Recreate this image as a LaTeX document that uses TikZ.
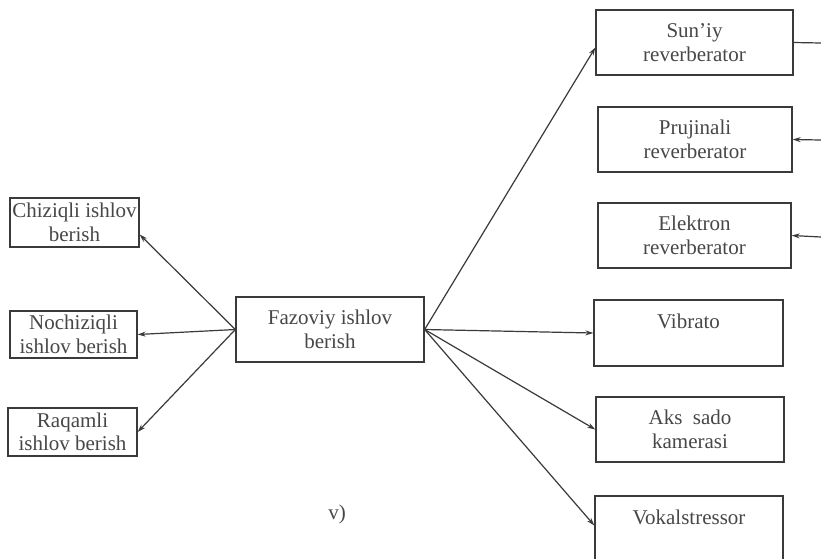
\documentclass[tikz,border=0pt]{standalone}
\usepackage{fontspec}
\setmainfont{Liberation Serif}
\usetikzlibrary{arrows.meta}
\definecolor{inkline}{HTML}{3A3A3A}
\definecolor{inktext}{HTML}{474747}
\begin{document}
\begin{tikzpicture}[x=1pt,y=-1pt,
  box/.style={draw=inkline, line width=1.3pt, inner sep=0pt, align=center,
    text=inktext, font=\fontsize{21}{23.5}\selectfont},
  link/.style={draw=inkline, line width=1.2pt},
  arrowto/.style={link, -{Stealth[length=8pt,width=5pt]}}]
\useasboundingbox (0,0) rectangle (821,558);
\fill[white] (0,0) rectangle (821,558);
\begin{scope}
\clip (0,0) rectangle (821,558);
% central block
\node[box, minimum width=188pt, minimum height=65pt] (faz) at (330,329.5) {Fazoviy ishlov\\berish};
% left column
\node[box, minimum width=129pt, minimum height=49pt] (chi) at (74.5,222.5) {Chiziqli ishlov\\berish};
\node[box, minimum width=127pt, minimum height=47pt] (noc) at (73.5,334.5) {Nochiziqli\\ishlov berish};
\node[box, minimum width=129pt, minimum height=48pt] (raq) at (72.5,432) {Raqamli\\ishlov berish};
% right column
\node[box, minimum width=197pt, minimum height=65pt] (sun) at (694.5,42.5) {Sun'iy\\reverberator};
\node[box, minimum width=194pt, minimum height=65pt] (pru) at (695,139.5) {Prujinali\\reverberator};
\node[box, minimum width=193pt, minimum height=65pt] (ele) at (694.5,235.5) {Elektron\\reverberator};
\node[box, minimum width=189pt, minimum height=66pt] (vib) at (688.5,333) {Vibrato\\\mbox{}};
\node[box, minimum width=188pt, minimum height=65pt] (aks) at (690,429.5) {Aks\ \ sado\\kamerasi};
\node[box, minimum width=188pt, minimum height=65pt] (vok) at (689,528.5) {Vokalstressor\\\mbox{}};
% caption
\node[text=inktext, font=\fontsize{21}{23.5}\selectfont, inner sep=0pt] (cap) at (337,514) {v)};
% outgoing links
\draw[arrowto] (faz.west) -- ([yshift=-12pt]chi.east);
\draw[arrowto] (faz.west) -- (noc.east);
\draw[arrowto] (faz.west) -- (raq.east);
\draw[arrowto] (faz.east) -- ([yshift=-5pt]sun.west);
\draw[arrowto] (faz.east) -- (vib.west);
\draw[arrowto] (faz.east) -- (aks.west);
\draw[arrowto] (faz.east) -- ([yshift=3pt]vok.west);
% links leaving the right edge
\coordinate (sunout) at (821,43);
\coordinate (pruin) at (821,140);
\coordinate (elein) at (821,237);
\draw[link] (sun.east) -- (sunout);
\draw[arrowto] (pruin) -- (pru.east);
\draw[arrowto] (elein) -- (ele.east);
\end{scope}
\end{tikzpicture}
\end{document}
